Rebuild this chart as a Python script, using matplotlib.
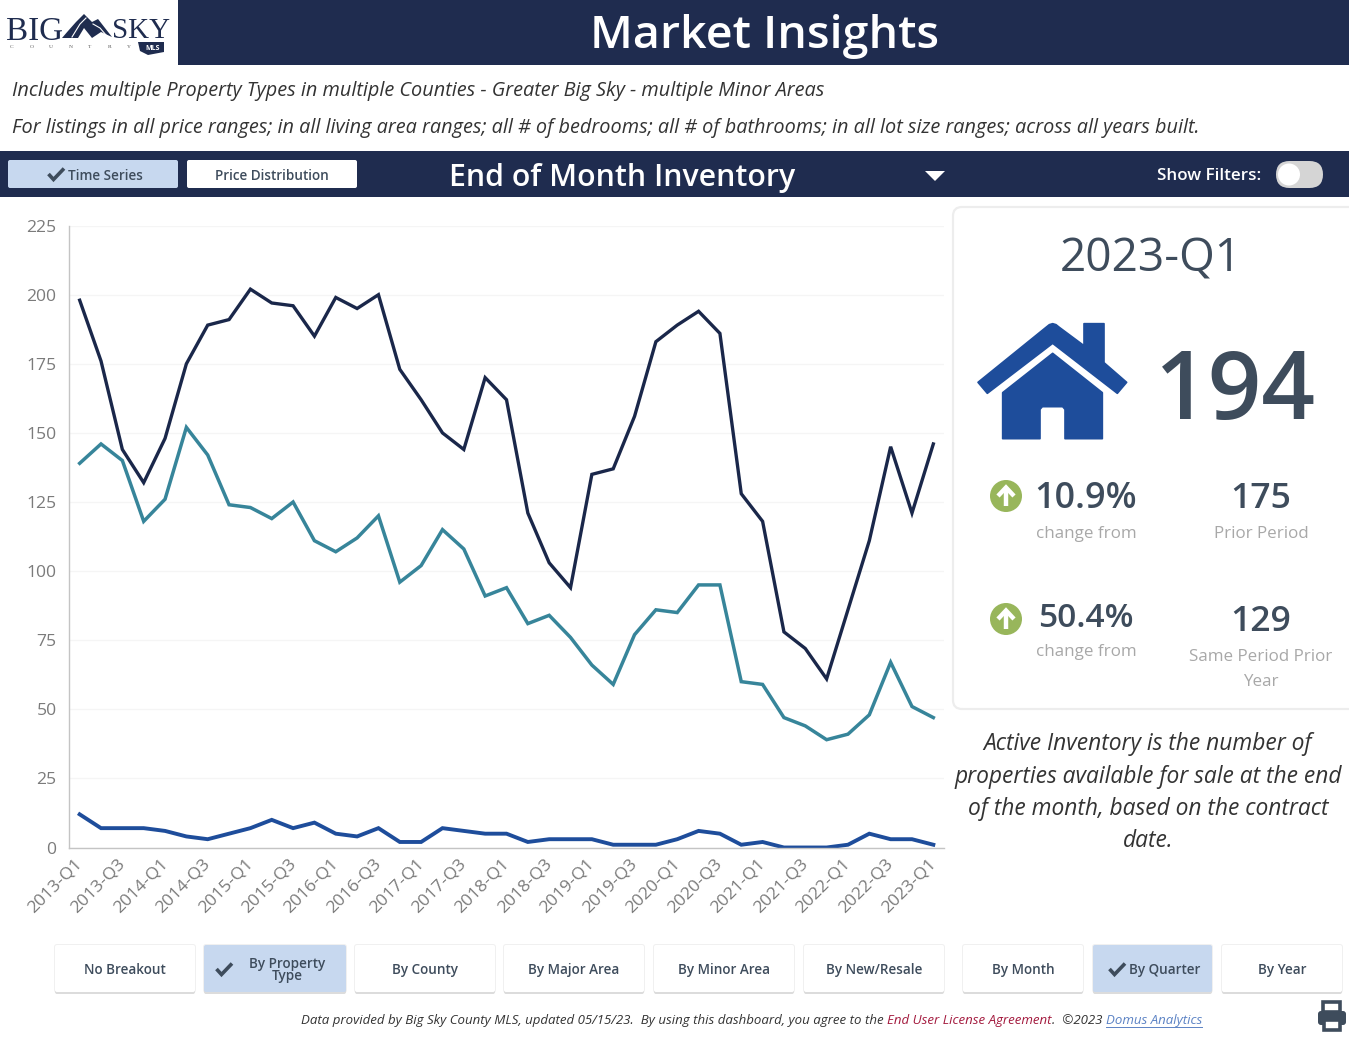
import numpy as np
import matplotlib
matplotlib.use('Agg')
import matplotlib.pyplot as plt
from matplotlib.patches import Rectangle, FancyBboxPatch, Circle, Polygon
from matplotlib.transforms import ScaledTranslation

W, H = 1349, 1040

# values
quarters = ['2013-Q1', '2013-Q2', '2013-Q3', '2013-Q4', '2014-Q1', '2014-Q2', '2014-Q3', '2014-Q4',
            '2015-Q1', '2015-Q2', '2015-Q3', '2015-Q4', '2016-Q1', '2016-Q2', '2016-Q3', '2016-Q4',
            '2017-Q1', '2017-Q2', '2017-Q3', '2017-Q4', '2018-Q1', '2018-Q2', '2018-Q3', '2018-Q4',
            '2019-Q1', '2019-Q2', '2019-Q3', '2019-Q4', '2020-Q1', '2020-Q2', '2020-Q3', '2020-Q4',
            '2021-Q1', '2021-Q2', '2021-Q3', '2021-Q4', '2022-Q1', '2022-Q2', '2022-Q3', '2022-Q4',
            '2023-Q1']
dark_series = [198, 176, 144, 132, 148, 175, 189, 191, 202, 197, 196, 185, 199, 195, 200, 173,
               162, 150, 144, 170, 162, 121, 103, 94, 135, 137, 156, 183, 189, 194, 186, 128,
               118, 78, 72, 61, 86, 111, 145, 121, 146]
teal_series = [139, 146, 140, 118, 126, 152, 142, 124, 123, 119, 125, 111, 107, 112, 120, 96,
               102, 115, 108, 91, 94, 81, 84, 76, 66, 59, 77, 86, 85, 95, 95, 60,
               59, 47, 44, 39, 41, 48, 67, 51, 47]
blue_series = [12, 7, 7, 7, 6, 4, 3, 5, 7, 10, 7, 9, 5, 4, 7, 2,
               2, 7, 6, 5, 5, 2, 3, 3, 3, 1, 1, 1, 3, 6, 5, 1,
               2, 0, 0, 0, 1, 5, 3, 3, 1]
y_ticks = [0, 25, 50, 75, 100, 125, 150, 175, 200, 225]

NAVY = '#1F2C4F'
TEAL = '#37859A'
BLUE = '#1E4D9B'
SLATE = '#3E4C5C'
ACTIVE = '#C7D8EF'
FONT = 'Open Sans'

plt.rcParams['font.family'] = [FONT, 'DejaVu Sans']


def px(size):
    return size * 72 / 100


fig = plt.figure(figsize=(W / 100, H / 100), dpi=100, facecolor='white')

# overlay in pixel coordinates for the dashboard furniture
bg = fig.add_axes([0, 0, 1, 1])
bg.set_xlim(0, W)
bg.set_ylim(H, 0)
bg.axis('off')


def label(x, y, s, size, color=SLATE, ha='center', weight='normal', style='normal', **kw):
    # open sans sits high with va=center, push it down a bit
    return bg.text(x, y + size * 0.1, s, fontsize=px(size), color=color, ha=ha, va='center',
                   fontweight=weight, fontstyle=style, **kw)


def button(x0, x1, y0, y1, s, active=False, size=13.5, text_x=None, shadow=True):
    if shadow:
        # soft edge all round, heavier underneath
        bg.add_patch(FancyBboxPatch((x0 - 1, y0 - 1), x1 - x0 + 2, y1 - y0 + 2, boxstyle='round,pad=0,rounding_size=3',
                                    fc='#F0F0F0', ec='none', zorder=1))
        bg.add_patch(FancyBboxPatch((x0, y0 + 2), x1 - x0, y1 - y0, boxstyle='round,pad=0,rounding_size=2',
                                    fc='#DCDCDC', ec='none', zorder=1))
    bg.add_patch(FancyBboxPatch((x0, y0), x1 - x0, y1 - y0, boxstyle='round,pad=0,rounding_size=2',
                                fc=ACTIVE if active else 'white', ec='none', zorder=2))
    tx = (x0 + x1) / 2 if text_x is None else text_x
    bg.text(tx, (y0 + y1) / 2 + 1.5, s, fontsize=px(size), color=SLATE, ha='center', va='center',
            fontweight='semibold', linespacing=0.9, zorder=3)


def check(x, y, s=1.0):
    bg.plot([x - 7.5 * s, x - 2.5 * s, x + 8 * s], [y, y + 5.5 * s, y - 5.5 * s], color=SLATE, lw=2.6,
            solid_capstyle='butt', solid_joinstyle='miter', zorder=4)


def arrow_badge(x, y):
    bg.add_patch(Circle((x, y), 16, fc='#98B65B', ec='none'))
    bg.plot([x, x], [y + 10, y - 8], color='white', lw=3.2, solid_capstyle='butt')
    bg.plot([x - 8, x, x + 8], [y, y - 8.5, y], color='white', lw=3.2, solid_joinstyle='miter', solid_capstyle='butt')


# header
bg.add_patch(Rectangle((178, 0), W - 178, 65, fc=NAVY, ec='none'))
label(765, 32, 'Market Insights', 46.5, color='white', weight='semibold')

# logo
label(6, 28, 'BIG', 33, color=NAVY, ha='left', family='Liberation Serif')
label(112, 28, 'SKY', 29, color=NAVY, ha='left', family='Liberation Serif')
bg.add_patch(Polygon([(62, 38), (68, 31), (76, 22), (84, 14), (92, 22), (98, 19), (112, 37), (101, 32), (92, 38),
                      (84, 28), (78, 38)], fc=NAVY, ec='none'))
bg.plot([72, 80, 86], [37, 24, 18], color='white', lw=0.8)
bg.plot([93, 100, 106], [24, 28, 35], color='white', lw=0.8)
for i, c in enumerate('COUNTRY'):
    label(12 + i * 19.5, 46, c, 5.5, color='#555555', family='Liberation Serif')
bg.add_patch(Polygon([(138, 42), (164, 42), (164, 52), (148, 55), (140, 51)], fc=NAVY, ec='none'))
label(153, 47.5, 'MLS', 7, color='white', weight='bold')

# filter description
label(12, 89, 'Includes multiple Property Types in multiple Counties - Greater Big Sky - multiple Minor Areas',
      19.9, color='#333333', ha='left', style='italic')
label(12, 126, 'For listings in all price ranges; in all living area ranges; all # of bedrooms; all # of bathrooms; '
      'in all lot size ranges; across all years built.', 19.9, color='#333333', ha='left', style='italic')

# measure band
bg.add_patch(Rectangle((0, 151), W, 46, fc=NAVY, ec='none'))
button(8, 178, 160, 188, 'Time Series', active=True, text_x=105, shadow=False)
check(56, 174)
button(187, 357, 160, 188, 'Price Distribution', shadow=False)
label(449, 175, 'End of Month Inventory', 30.3, color='white', ha='left', weight='semibold')
bg.add_patch(Polygon([(925, 171), (945, 171), (935, 181)], fc='white', ec='none'))
label(1261, 174, 'Show Filters:', 17, color='white', ha='right', weight='semibold')
bg.add_patch(FancyBboxPatch((1276, 161), 47, 27, boxstyle='round,pad=0,rounding_size=13.5', fc='#D5D5D5', ec='none'))
bg.add_patch(Circle((1289, 174.5), 11, fc='white', ec='none'))

# chart
ax = fig.add_axes([69 / W, 1 - 847.5 / H, (944 - 69) / W, (847.5 - 225.6) / H])
ax.patch.set_alpha(0)
x = np.arange(len(quarters))
ax.plot(x, dark_series, color='#1A274A', lw=2.4, solid_joinstyle='miter')
ax.plot(x, teal_series, color=TEAL, lw=2.5, solid_joinstyle='miter')
ax.plot(x, blue_series, color=BLUE, lw=2.8, solid_joinstyle='miter')
ax.set_xlim(-0.5, len(quarters) - 0.5)
ax.set_ylim(0, 225)
ax.set_yticks(y_ticks)
ax.set_xticks(x[::2])
ax.set_xticklabels(quarters[::2], rotation=45, ha='right', rotation_mode='anchor')
ax.tick_params(axis='both', length=0, labelsize=px(17.5), labelcolor='#7B7B7B')
ax.tick_params(axis='y', pad=9)
ax.tick_params(axis='x', pad=6)
# the rotated labels sit a little left of their ticks
shift = ScaledTranslation(-4 / 72, 0, fig.dpi_scale_trans)
for t in ax.get_xticklabels():
    t.set_transform(t.get_transform() + shift)
ax.grid(axis='y', color='#F5F5F5', lw=1)
ax.set_axisbelow(True)
for side in ['top', 'right']:
    ax.spines[side].set_visible(False)
for side in ['left', 'bottom']:
    ax.spines[side].set_color('#C4C4C4')
    ax.spines[side].set_linewidth(1)

# stat card
bg.add_patch(FancyBboxPatch((953, 207), 420, 502, boxstyle='round,pad=0,rounding_size=9', fc='white',
                            ec='#EDEDED', lw=1.6))
label(1151, 255, '2023-Q1', 46)
house = np.array([(84, 547), (288, 382), (298, 374), (308, 371), (318, 374), (328, 382), (402, 437), (402, 371),
                  (462, 371), (462, 488), (530, 547), (502, 580), (308, 430), (112, 580)], float)
body = np.array([(308, 460), (457, 578), (457, 716), (345, 716), (345, 628), (338, 620), (277, 620), (270, 628),
                 (270, 716), (158, 716), (158, 578)], float)
for pts in (house, body):
    bg.add_patch(Polygon(pts / 3 + [950, 200], fc=BLUE, ec=BLUE, lw=1.2, joinstyle='round'))
label(1235, 385, '194', 94, weight='semibold')
arrow_badge(1006, 496)
label(1086, 495, '10.9%', 36, weight='semibold')
label(1261, 495, '175', 35.5, weight='semibold')
label(1086, 532, 'change from', 17, color='#A8A8A8')
label(1261, 532, 'Prior Period', 17, color='#A8A8A8')
arrow_badge(1006, 619)
label(1086, 615, '50.4%', 33.5, weight='semibold')
label(1261, 618, '129', 35.5, weight='semibold')
label(1086, 650, 'change from', 17, color='#A8A8A8')
label(1261, 655, 'Same Period Prior', 17, color='#A8A8A8')
label(1261, 680, 'Year', 17, color='#A8A8A8')

# definition
for yy, line in zip([742, 775, 807, 839],
                    ['Active Inventory is the number of', 'properties available for sale at the end',
                     'of the month, based on the contract', 'date.']):
    label(1148, yy, line, 22.8, color='#333333', style='italic')

# breakout buttons
button(55, 195, 945, 992, 'No Breakout')
button(204, 346, 945, 992, 'By Property\nType', active=True, text_x=287)
check(224, 969)
button(355, 495, 945, 992, 'By County')
button(504, 644, 945, 992, 'By Major Area')
button(654, 794, 945, 992, 'By Minor Area')
button(804, 944, 945, 992, 'By New/Resale')
button(963, 1083, 945, 992, 'By Month')
button(1093, 1212, 945, 992, 'By Quarter', active=True, text_x=1165)
check(1117, 969)
button(1222, 1342, 945, 992, 'By Year')

# footer, one piece after another
fig.canvas.draw()
renderer = fig.canvas.get_renderer()
cursor = 301
for s, col in [('Data provided by Big Sky County MLS, updated 05/15/23.  By using this dashboard, you agree to the ', '#333333'),
               ('End User License Agreement', '#A3193D'),
               ('.  ©2023 ', '#333333'),
               ('Domus Analytics', '#5B82C4')]:
    t = label(cursor, 1019, s, 13.2, color=col, ha='left', style='italic')
    t.set_text(s.replace(' ', '\u00a0'))
    ext = t.get_window_extent(renderer)
    if s.startswith('Domus'):
        bg.plot([cursor, cursor + ext.width], [1027, 1027], color=col, lw=0.7)
    cursor += ext.width

# printer icon
bg.add_patch(Rectangle((1323, 1002), 17, 10, fc='white', ec=SLATE, lw=2.6))
bg.add_patch(FancyBboxPatch((1318, 1011), 28, 14, boxstyle='round,pad=0,rounding_size=3', fc=SLATE, ec='none'))
bg.add_patch(Rectangle((1324, 1020), 16, 10, fc='white', ec=SLATE, lw=2.6))

fig.savefig('out.png', dpi=100)
